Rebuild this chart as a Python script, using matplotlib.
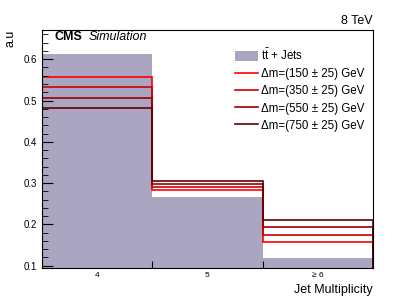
import numpy as np
import matplotlib.pyplot as plt
from matplotlib.patches import Patch
from matplotlib.lines import Line2D
from matplotlib.ticker import MultipleLocator

# jet multiplicity bins
categories = ["4", "5", "≥ 6"]
ttbar = [0.612, 0.267, 0.119]

# signal shapes per mass splitting
signal_labels = ["Δm=(150 ± 25) GeV", "Δm=(350 ± 25) GeV",
                 "Δm=(550 ± 25) GeV", "Δm=(750 ± 25) GeV"]
sig_150 = [0.556, 0.284, 0.158]
sig_350 = [0.533, 0.291, 0.175]
sig_550 = [0.506, 0.299, 0.193]
sig_750 = [0.482, 0.306, 0.211]
signals = [sig_150, sig_350, sig_550, sig_750]
sig_colors = ["#ff0000", "#cc0000", "#990000", "#660000"]
fill_color = "#aaa6c2"

plt.rcParams["font.family"] = ["Liberation Sans", "DejaVu Sans"]
plt.rcParams["mathtext.fontset"] = "custom"
plt.rcParams["mathtext.rm"] = "Liberation Sans"

W, H = 415, 298
fig = plt.figure(figsize=(W / 100, H / 100), dpi=100)
ax = fig.add_axes([41.5 / W, 1 - 268 / H, (373 - 41.5) / W, (268 - 29.5) / H])

edges = np.arange(len(categories) + 1)
ax.stairs(ttbar, edges, fill=True, color=fill_color, baseline=0)
for vals, col in zip(signals, sig_colors):
    ax.stairs(vals, edges, color=col, linewidth=1.2, baseline=0)

ax.set_xlim(0, len(categories))
ax.set_ylim(0.0944, 0.672)

ax.yaxis.set_major_locator(MultipleLocator(0.1))
ax.yaxis.set_minor_locator(MultipleLocator(0.02))
ax.tick_params(axis="y", which="major", direction="in", length=8, labelsize=7, width=0.8)
ax.tick_params(axis="y", which="minor", direction="in", length=4, width=0.6)
ax.set_xticks(edges[1:-1])
ax.set_xticks(edges[:-1] + 0.5, minor=True)
ax.set_xticklabels([])
ax.set_xticklabels(categories, minor=True)
ax.tick_params(axis="x", which="major", direction="in", length=5, width=0.8)
ax.tick_params(axis="x", which="minor", length=0, labelsize=6, pad=3)
for sp in ax.spines.values():
    sp.set_linewidth(0.8)

fig.text(373 / W, 1 - 290 / H, "Jet Multiplicity", fontsize=9, ha="right", va="center")
fig.text(5 / W, 1 - 30 / H, "a.u", rotation=90, fontsize=9, ha="left", va="top")

fig.text(54 / W, 1 - 37 / H, "CMS", fontsize=9, fontweight="bold", va="center")
fig.text(89 / W, 1 - 37 / H, "Simulation", fontsize=9, style="italic", va="center")
fig.text(373 / W, 1 - 27 / H, "8 TeV", fontsize=9, ha="right", va="bottom")

handles = [Patch(facecolor=fill_color, edgecolor="none")]
handles += [Line2D([0], [0], color=c, linewidth=1.2) for c in sig_colors]
labels = [r"t$\bar{\rm t}$ + Jets"] + signal_labels
ax.legend(handles, labels, loc="upper left", bbox_to_anchor=(229 / W, 1 - 42 / H),
          bbox_transform=fig.transFigure, frameon=False,
          fontsize=8.3, handlelength=2.0, handleheight=0.9, labelspacing=0.45,
          handletextpad=0.3, borderpad=0)

fig.savefig("out.png", dpi=100)
